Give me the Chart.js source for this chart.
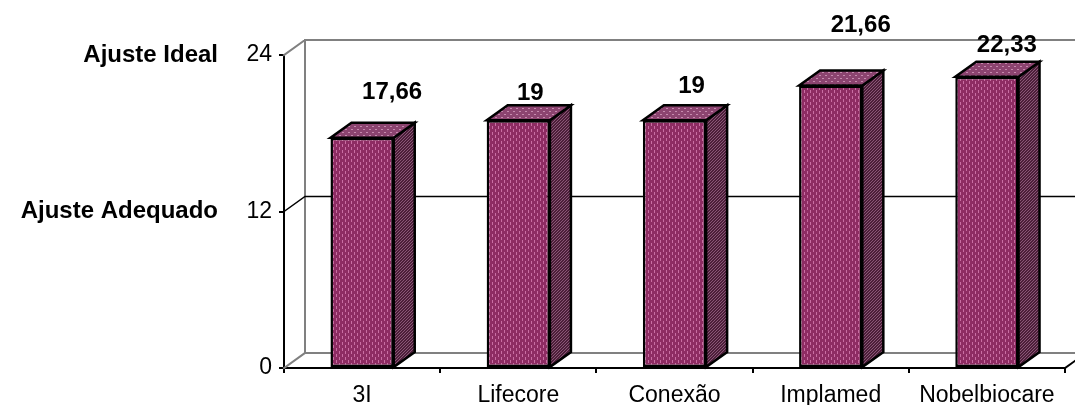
<!DOCTYPE html>
<html>
<head>
<meta charset="utf-8">
<script src="https://cdn.jsdelivr.net/npm/chart.js@4/dist/chart.umd.min.js"></script>
<style>
  html, body { margin: 0; padding: 0; background: #fff; }
  canvas { display: block; }
</style>
</head>
<body>
<canvas id="grafico" width="1075" height="405"></canvas>
<script>
// Dados do gráfico
const categorias = ['3I', 'Lifecore', 'Conexão', 'Implamed', 'Nobelbiocare'];
const valores = [17.66, 19, 19, 21.66, 22.33];
const rotulosValor = ['17,66', '19', '19', '21,66', '22,33'];
const ticksY = [0, 12, 24];
const faixaValores = [24, 12];
const faixaTextos = ['Ajuste Ideal', 'Ajuste Adequado'];

const FONTE = "'Liberation Sans', Arial, sans-serif";
const PROF_X = 21;   // profundidade 3D
const PROF_Y = -15;

// Texturas das faces (imitando o padrão do Excel)
function textura(base, claro, desenha) {
    const c = document.createElement('canvas');
    c.width = 6; c.height = 6;
    const g = c.getContext('2d');
    g.fillStyle = base;
    g.fillRect(0, 0, 6, 6);
    g.fillStyle = claro;
    desenha(g);
    return document.getElementById('grafico').getContext('2d').createPattern(c, 'repeat');
}

const padraoFrente = textura('#8e2c63', '#c96ea3', g => {
    g.fillRect(0, 0, 1, 3);
    g.fillRect(3, 3, 1, 3);
});
const padraoTopo = textura('#8c4470', '#c68aae', g => {
    g.fillRect(0, 0, 1, 1);
    g.fillRect(3, 3, 1, 1);
    g.fillRect(1, 0, 1, 1);
    g.fillRect(4, 3, 1, 1);
});
const padraoLado = textura('#4c1f39', '#8a5677', g => {
    for (let i = 0; i < 6; i++) g.fillRect(i % 3, 5 - i, 1, 1);
    for (let i = 0; i < 6; i++) g.fillRect(3 + (i % 3), 5 - i, 1, 1);
});

// Plugin para desenhar as paredes, as faces 3D e os rótulos
const efeito3D = {
    id: 'efeito3D',
    beforeDatasetsDraw(chart) {
        const ctx = chart.ctx;
        const area = chart.chartArea;
        const y = chart.scales.y;
        const L = area.left, R = area.right, T = y.getPixelForValue(24), B = y.getPixelForValue(0);
        ctx.save();
        ctx.lineCap = 'square';
        // parede do fundo (cinza)
        ctx.strokeStyle = '#808080';
        ctx.lineWidth = 2;
        ctx.beginPath();
        ctx.moveTo(L, T); ctx.lineTo(L + PROF_X, T + PROF_Y);
        ctx.lineTo(R + PROF_X, T + PROF_Y);
        ctx.moveTo(L + PROF_X, T + PROF_Y); ctx.lineTo(L + PROF_X, B + PROF_Y);
        ctx.lineTo(R + PROF_X, B + PROF_Y);
        ctx.moveTo(L, B); ctx.lineTo(L + PROF_X, B + PROF_Y);
        ctx.stroke();
        // linha de grade em 12
        const y12 = y.getPixelForValue(12);
        ctx.strokeStyle = '#000';
        ctx.lineWidth = 1.5;
        ctx.beginPath();
        ctx.moveTo(L, y12); ctx.lineTo(L + PROF_X, y12 + PROF_Y);
        ctx.lineTo(R + PROF_X, y12 + PROF_Y);
        ctx.stroke();
        // borda direita do piso
        ctx.lineWidth = 2;
        ctx.beginPath();
        ctx.moveTo(R, B); ctx.lineTo(R + PROF_X, B + PROF_Y);
        ctx.stroke();
        ctx.restore();
    },
    afterDatasetsDraw(chart, args, opts) {
        const ctx = chart.ctx;
        const meta = chart.getDatasetMeta(0);
        ctx.save();
        ctx.lineWidth = 2.5;
        ctx.strokeStyle = '#000';
        ctx.lineJoin = 'miter';
        meta.data.forEach((barra, i) => {
            const esq = barra.x - barra.width / 2;
            const dir = barra.x + barra.width / 2;
            const topo = barra.y;
            const base = barra.base;
            // lateral
            ctx.beginPath();
            ctx.moveTo(dir, topo);
            ctx.lineTo(dir + PROF_X, topo + PROF_Y);
            ctx.lineTo(dir + PROF_X, base + PROF_Y);
            ctx.lineTo(dir, base);
            ctx.closePath();
            ctx.fillStyle = padraoLado;
            ctx.fill();
            ctx.stroke();
            // topo
            ctx.beginPath();
            ctx.moveTo(esq, topo);
            ctx.lineTo(esq + PROF_X, topo + PROF_Y);
            ctx.lineTo(dir + PROF_X, topo + PROF_Y);
            ctx.lineTo(dir, topo);
            ctx.closePath();
            ctx.fillStyle = padraoTopo;
            ctx.fill();
            ctx.stroke();
            // rótulo do valor
            const d = opts.deslocamentos[i];
            ctx.fillStyle = '#000';
            ctx.font = 'bold 24px ' + FONTE;
            ctx.textAlign = 'center';
            ctx.textBaseline = 'middle';
            ctx.fillText(rotulosValor[i], barra.x + d[0], topo + d[1]);
        });
        // rótulos das faixas à esquerda
        const y = chart.scales.y;
        ctx.font = 'bold 24px ' + FONTE;
        ctx.textAlign = 'right';
        ctx.textBaseline = 'middle';
        faixaValores.forEach((v, i) => {
            ctx.fillText(faixaTextos[i], chart.chartArea.left - 66, y.getPixelForValue(v));
        });
        ctx.restore();
    }
};

new Chart(document.getElementById('grafico'), {
    type: 'bar',
    data: {
        labels: categorias,
        datasets: [{
            data: valores,
            backgroundColor: padraoFrente,
            borderColor: '#000',
            borderWidth: 2.5,
            borderSkipped: false,
            barPercentage: 0.405,
            categoryPercentage: 1
        }]
    },
    options: {
        responsive: false,
        devicePixelRatio: 1,
        animation: false,
        layout: { padding: { top: 55, right: 10, bottom: 0, left: 0 } },
        plugins: {
            legend: { display: false },
            tooltip: { enabled: false },
            efeito3D: {
                deslocamentos: [[30, -45], [12, -27], [17, -34], [30, -60], [20, -31]]
            }
        },
        scales: {
            x: {
                grid: { drawOnChartArea: false, drawTicks: true, tickLength: 5, color: '#000', lineWidth: 2 },
                border: { display: true, color: '#000', width: 2 },
                ticks: { color: '#000', font: { family: FONTE, size: 23 }, padding: 9, maxRotation: 0 },
                afterFit(scale) { scale.height = 37; }
            },
            y: {
                min: 0,
                max: 24,
                afterBuildTicks(scale) { scale.ticks = ticksY.map(v => ({ value: v })); },
                grid: { drawOnChartArea: false, drawTicks: true, tickLength: 5, color: '#000', lineWidth: 2 },
                border: { display: true, color: '#000', width: 2 },
                ticks: { color: '#000', font: { family: FONTE, size: 23 }, padding: 7 },
                afterFit(scale) { scale.width = 284; }
            }
        }
    },
    plugins: [efeito3D]
});
</script>
</body>
</html>
